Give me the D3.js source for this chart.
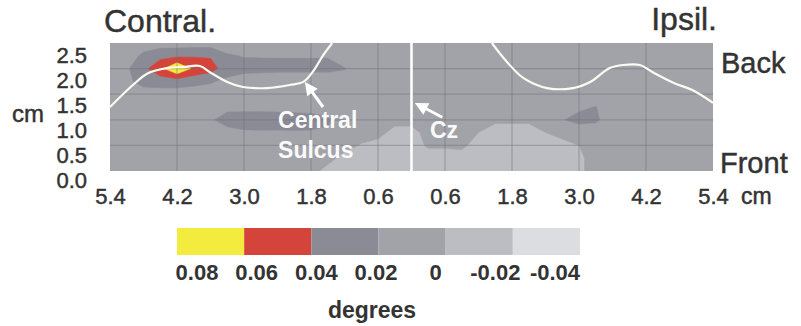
<!DOCTYPE html>
<html><head><meta charset="utf-8">
<script src="https://cdn.jsdelivr.net/npm/d3@7"></script>
<style>
html,body{margin:0;padding:0;background:#fff;}
svg{display:block;}
</style></head><body>
<svg id="chart" width="801" height="326"></svg>
<script>
// ---------- data ----------
// grid sample positions (cm); negative = contralateral side
const gridXcm = [-5.4,-5.1,-4.8,-4.5,-4.2,-3.9,-3.6,-3.3,-3.0,-2.7,-2.4,-2.1,-1.8,-1.5,-1.2,-0.9,-0.6,-0.3,0,
                 0.3,0.6,0.9,1.2,1.5,1.8,2.1,2.4,2.7,3.0,3.3,3.6,3.9,4.2,4.5,4.8,5.1,5.4];
const gridYcm = [2.5,2.25,2.0,1.75,1.5,1.25,1.0,0.75,0.5,0.25,0.0]; // rows, top to bottom
// deflection, in 0.01 degrees, one row per gridYcm entry
const deflectionCentiDeg = [
 [1,1,1,1,1,1,1,1,1,1,1,1,1,1,1,1,1,1,1, 1,1,1,1,1,1,1,1,1,1,1,1,1,1,1,1,1,1],
 [1,1,2.4,3.4,3.6,3.8,3.8,2.2,1.9,1.9,1.9,1.9,1.9,1.9,1,1,1,1,1, 1,1,1,1,1,1,1,1,1,1,1,1,1,1,1,1,1,1],
 [1,1.7,3.45,5.4,8.0,5.6,4.8,3.0,2.6,2.5,2.4,2.4,2.4,2.4,2.1,1,1,1,1, 1,1,1,1,1,1,1,1,1,1,1,1,1,1,1,1,1,1],
 [1,1.5,2.8,3.0,3.0,2.6,2.2,1.5,1,1,1,1,1,1,1,1,1,1,1, 1,1,1,1,1,1,1,1,1,1,1,1,1,1,1,1,1,1],
 [1,1,1,1,1,1,1,1,1,1,1,1,1,1,1,1,1,1,1, 1,1,1,1,1,1,1,1,1,1,1,1,1,1,1,1,1,1],
 [1,1,1,1,1,1,1.2,1.6,1.6,1.6,1.6,1.6,1.6,1.4,1,1,1,1,1, 1,1,1,1,1,1,1,1,1,1.7,2.05,1,1,1,1,1,1,1],
 [1,1,1,1,1,1,1.8,2.6,2.7,2.7,2.6,2.5,2.4,2.2,1.6,1.2,1,1,1, 1,1,1,0.7,0.4,0.4,0.4,0.7,1.9,2.5,2.3,1,1,1,1,1,1,1],
 [1,1,1,1,1,1,1,1.5,1.8,1.85,1.85,1.9,1.9,1.8,1.2,1,1,-1,-1, 1,1,1,0,-1,-1,-1,0,1,1,1,1,1,1,1,1,1,1],
 [1,1,1,1,1,1,1,1,1,1,1,1,1,1,1,-0.2,-1,-1,-1, 0.3,0.3,0.5,-1,-1,-1,-1,-1,-1,0,1,1,1,1,1,1,1,1],
 [1,1,1,1,1,1,1,1,1,1,1,1,1,1,-1,-1,-1,-1,-1, -1,-1,-1,-1,-1,-1,-1,-1,-1,-0.5,1,1,1,1,1,1,1,1],
 [1,1,1,1,1,1,1,1,1,1,1,1,1,-1,-1,-1,-1,-1,-1, -1,-1,-1,-1,-1,-1,-1,-1,-1,-0.5,1,1,1,1,1,1,1,1]
];
const levels = [0.08,0.06,0.04,0.02,0,-0.02,-0.04];           // colour bar boundaries (degrees)
const levelColors = ["#f3ec3e","#d4443a","#8a8b95","#a2a3a9","#bcbdc2","#dcdde0"]; // top band first
const xTicks = [-5.4,-4.2,-3.0,-1.8,-0.6,0.6,1.8,3.0,4.2,5.4];
const yTicks = [0,0.5,1.0,1.5,2.0,2.5];
const gridLinesX = [-4.2,-3.0,-1.8,-0.6,0.6,1.8,3.0,4.2];
const gridLinesY = [0.5,1.0,1.5,2.0];
// central sulcus traces (cm)
const sulcusContra = [[-5.40,1.25],[-4.99,1.68],[-4.72,1.91],[-4.38,2.01],[-4.09,2.03],[-3.79,2.05],[-3.61,1.93],
  [-3.30,1.74],[-3.02,1.64],[-2.59,1.62],[-2.18,1.68],[-1.94,1.74],[-1.76,1.95],[-1.59,2.25],[-1.42,2.50]];
const sulcusIpsi = [[1.44,2.50],[1.71,2.13],[2.00,1.82],[2.43,1.62],[2.89,1.62],[3.20,1.74],[3.55,2.01],
  [3.79,2.07],[4.09,2.07],[4.32,1.93],[4.70,1.72],[5.03,1.58],[5.40,1.33]];
const czLine = [[0,0],[0,2.5]];
const arrows = [{tip:[-1.91,1.74], tail:[-1.585,1.25]}, {tip:[0.06,1.33], tail:[0.55,1.05]}];
const notes = [{text:"Central", x:-2.39, y:0.84},{text:"Sulcus", x:-2.39, y:0.25},{text:"Cz", x:0.33, y:0.645}];

// ---------- layout ----------
const FONT = '"Liberation Sans", Arial, sans-serif';
const TXT = "#333";
const svg = d3.select("#chart").style("font-family", FONT);
const P = {left:110, right:713, top:43, bottom:171};
const x = d3.scaleLinear().domain([-5.4,5.4]).range([P.left,P.right]);
const y = d3.scaleLinear().domain([0,2.5]).range([P.bottom,P.top]);
const yLab = d3.scaleLinear().domain([0,2.5]).range([180,55.5]);

svg.append("defs").append("clipPath").attr("id","plotClip")
  .append("rect").attr("x",P.left).attr("y",P.top).attr("width",P.right-P.left).attr("height",P.bottom-P.top);

// ---------- contour map ----------
const nx = gridXcm.length, ny = gridYcm.length;
const flat = deflectionCentiDeg.flat().map(v => v/100);
const thresholds = levels.slice(1).reverse(); // -0.04 ... 0.06
const contours = d3.contours().size([nx,ny]).thresholds(thresholds)(flat);
const dX = (gridXcm[nx-1]-gridXcm[0])/(nx-1);
const dY = (gridYcm[0]-gridYcm[ny-1])/(ny-1);
const proj = d3.geoTransform({point(px,py){
  this.stream.point(x(gridXcm[0]+(px-0.5)*dX), y(gridYcm[0]-(py-0.5)*dY));
}});
const gPath = d3.geoPath(proj);
const map = svg.append("g").attr("clip-path","url(#plotClip)");
const bandColorFor = v => levelColors[levels.indexOf(v)-1];
map.selectAll("path.band").data(contours).join("path")
  .attr("class","band")
  .attr("d", gPath)
  .attr("fill", d => bandColorFor(d.value))
  .attr("stroke", d => bandColorFor(d.value))
  .attr("stroke-width", 0.5);

// grid
map.selectAll("line.gx").data(gridLinesX).join("line")
  .attr("x1",d=>x(d)).attr("x2",d=>x(d)).attr("y1",P.top).attr("y2",P.bottom)
  .attr("stroke","#6f7078").attr("stroke-opacity",0.45).attr("stroke-width",1.2);
map.selectAll("line.gy").data(gridLinesY).join("line")
  .attr("y1",d=>y(d)).attr("y2",d=>y(d)).attr("x1",P.left).attr("x2",P.right)
  .attr("stroke","#6f7078").attr("stroke-opacity",0.45).attr("stroke-width",1.2);

// sulcus lines and Cz
const line = d3.line().x(d=>x(d[0])).y(d=>y(d[1])).curve(d3.curveCatmullRom);
[sulcusContra, sulcusIpsi].forEach(s => map.append("path").attr("d", line(s))
  .attr("fill","none").attr("stroke","#fbfbf4").attr("stroke-width",2.2));
map.append("path").attr("d", d3.line().x(d=>x(d[0])).y(d=>y(d[1]))(czLine))
  .attr("stroke","#ffffff").attr("stroke-width",2.6);

// arrows
arrows.forEach(a => {
  const tx = x(a.tip[0]), ty = y(a.tip[1]), sx = x(a.tail[0]), sy = y(a.tail[1]);
  const L = Math.hypot(tx-sx, ty-sy), ux = (tx-sx)/L, uy = (ty-sy)/L;
  const hl = 13, hw = 6.5;
  const bx = tx - ux*hl, by = ty - uy*hl;
  svg.append("line").attr("x1",sx).attr("y1",sy).attr("x2",bx+ux*2).attr("y2",by+uy*2)
    .attr("stroke","#fff").attr("stroke-width",3);
  svg.append("path").attr("d", `M${tx},${ty}L${bx-uy*hw},${by+ux*hw}L${bx+uy*hw},${by-ux*hw}Z`).attr("fill","#fff");
});
svg.selectAll("text.note").data(notes).join("text")
  .attr("x",d=>x(d.x)).attr("y",d=>y(d.y)).text(d=>d.text)
  .attr("fill","#fafafa").attr("font-weight","bold").attr("font-size",23);

// heavier text helper (scanned print look)
const heavy = sel => sel.attr("fill",TXT).attr("stroke",TXT).attr("stroke-width",0.45);

// ---------- axes ----------
const xAxis = svg.append("g").attr("transform",`translate(0,${P.bottom})`)
  .call(d3.axisBottom(x).tickValues(xTicks).tickSize(0).tickPadding(17).tickFormat(d=>Math.abs(d).toFixed(1)));
xAxis.select(".domain").remove();
xAxis.attr("font-size",22).attr("font-family",FONT).selectAll("text").call(heavy);

const yAxis = svg.append("g").attr("transform","translate(87,0)")
  .call(d3.axisLeft(yLab).tickValues(yTicks).tickSize(0).tickPadding(0).tickFormat(d3.format(".1f")));
yAxis.select(".domain").remove();
yAxis.attr("font-size",22).attr("font-family",FONT).selectAll("text").call(heavy);

svg.append("text").attr("x",12).attr("y",122).text("cm").attr("font-size",24).call(heavy);
svg.append("text").attr("x",741).attr("y",204).text("cm").attr("font-size",23).call(heavy);

svg.append("text").attr("x",104).attr("y",32).text("Contral.").attr("font-size",32).call(heavy);
svg.append("text").attr("x",717).attr("y",30).attr("text-anchor","end").text("Ipsil.").attr("font-size",32).call(heavy);
svg.append("text").attr("x",721).attr("y",73).text("Back").attr("font-size",29).call(heavy);
svg.append("text").attr("x",720).attr("y",173).text("Front").attr("font-size",29).call(heavy);

// ---------- colour bar ----------
const cb = d3.scaleLinear().domain([0.08,-0.04]).range([177,580]);
const cbLab = d3.scaleLinear().domain([0.08,-0.04]).range([197,555]);
svg.selectAll("rect.cb").data(levelColors).join("rect")
  .attr("x",(d,i)=>cb(levels[i])).attr("width",(d,i)=>cb(levels[i+1])-cb(levels[i]))
  .attr("y",228).attr("height",27).attr("fill",d=>d);
svg.selectAll("text.cbl").data(levels).join("text")
  .attr("x",d=>cbLab(d)).attr("y",280).attr("text-anchor","middle")
  .text(d=> d===0 ? "0" : d.toFixed(2))
  .attr("font-size",22).attr("font-weight","bold").attr("fill",TXT);
svg.append("text").attr("x",372).attr("y",318).attr("text-anchor","middle")
  .text("degrees").attr("font-size",23).attr("font-weight","bold").attr("fill",TXT);
</script>
</body></html>
